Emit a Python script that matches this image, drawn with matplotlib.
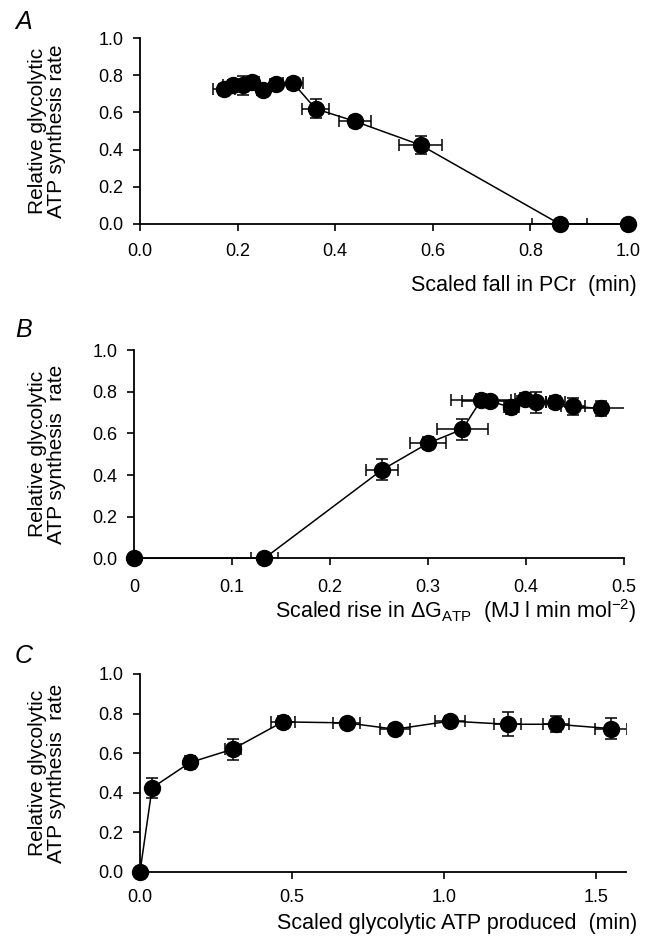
import matplotlib
matplotlib.use("Agg")
import matplotlib.pyplot as plt

plt.rcParams["font.family"] = ["Liberation Sans", "DejaVu Sans"]
plt.rcParams["mathtext.fontset"] = "custom"
plt.rcParams["mathtext.rm"] = "Liberation Sans"

# ---- panel A: scaled fall in PCr ----
a_x = [1.0, 0.86, 0.575, 0.44, 0.36, 0.314, 0.279, 0.252, 0.229, 0.211, 0.191, 0.172]
a_y = [0.0, 0.0, 0.425, 0.553, 0.62, 0.758, 0.753, 0.721, 0.762, 0.746, 0.746, 0.724]
a_xerr = [0.0, 0.056, 0.044, 0.033, 0.027, 0.02, 0.012, 0.012, 0.015, 0.015, 0.02, 0.022]
a_yerr = [0.0, 0.0, 0.05, 0.03, 0.05, 0.03, 0.02, 0.025, 0.03, 0.05, 0.03, 0.03]

# ---- panel B: scaled rise in dG_ATP ----
b_x = [0.0, 0.133, 0.253, 0.30, 0.335, 0.354, 0.363, 0.385, 0.399, 0.41, 0.43, 0.448, 0.477]
b_y = [0.0, 0.0, 0.425, 0.553, 0.62, 0.76, 0.755, 0.725, 0.765, 0.75, 0.75, 0.73, 0.72]
b_xerr = [0.0, 0.014, 0.016, 0.018, 0.026, 0.031, 0.028, 0.008, 0.01, 0.01, 0.01, 0.012, 0.03]
b_yerr = [0.0, 0.0, 0.05, 0.03, 0.05, 0.03, 0.02, 0.03, 0.03, 0.05, 0.03, 0.04, 0.035]

# ---- panel C: scaled glycolytic ATP produced ----
c_x = [0.0, 0.04, 0.165, 0.305, 0.47, 0.68, 0.84, 1.02, 1.21, 1.37, 1.55]
c_y = [0.0, 0.425, 0.553, 0.62, 0.758, 0.753, 0.721, 0.762, 0.746, 0.746, 0.724]
c_xerr = [0.0, 0.01, 0.015, 0.026, 0.04, 0.044, 0.05, 0.05, 0.043, 0.044, 0.053]
c_yerr = [0.0, 0.052, 0.035, 0.052, 0.03, 0.02, 0.025, 0.025, 0.06, 0.04, 0.054]

ylab_a = "Relative glycolytic\nATP synthesis rate"
ylab_bc = "Relative glycolytic\nATP synthesis  rate"

W, H = 648, 943
fig = plt.figure(figsize=(W / 100, H / 100), dpi=100)

panels = [
    # letter, rect, x, y, xerr, yerr, xlim, xticks, xticklabels, xlabel,
    # xlabel y (px), letter y (px), tick pad, ylabel
    ("A", [0.216, 0.7625, 0.753, 0.197], a_x, a_y, a_xerr, a_yerr, (0, 1.0),
     [0, 0.2, 0.4, 0.6, 0.8, 1.0], ["0.0", "0.2", "0.4", "0.6", "0.8", "1.0"],
     "Scaled fall in PCr  (min)", 286, 22, 9, ylab_a),
    ("B", [0.207, 0.408, 0.756, 0.2206], b_x, b_y, b_xerr, b_yerr, (0, 0.5),
     [0, 0.1, 0.2, 0.3, 0.4, 0.5], ["0", "0.1", "0.2", "0.3", "0.4", "0.5"],
     "Scaled rise in ΔG$_{\\mathrm{ATP}}$  (MJ l min mol$^{\\mathrm{{-}2}}$)", 611, 330, 10, ylab_bc),
    ("C", [0.216, 0.0753, 0.75, 0.21], c_x, c_y, c_xerr, c_yerr, (0, 1.6),
     [0, 0.5, 1.0, 1.5], ["0.0", "0.5", "1.0", "1.5"],
     "Scaled glycolytic ATP produced  (min)", 924, 656, 7, ylab_bc),
]

for letter, rect, x, y, xe, ye, xlim, xt, xtl, xlab, xlab_y, let_y, pad, ylab in panels:
    ax = fig.add_axes(rect)
    ax.errorbar(x, y, xerr=xe, yerr=ye, fmt="none", ecolor="black",
                elinewidth=1.1, capsize=4.5, capthick=1.1, zorder=2)
    ax.plot(x, y, "-o", color="black", markersize=11.5, linewidth=1.1,
            clip_on=False, zorder=3)
    ax.set_xlim(*xlim)
    ax.set_ylim(0, 1.0)
    ax.set_xticks(xt)
    ax.set_xticklabels(xtl)
    ax.set_yticks([0, 0.2, 0.4, 0.6, 0.8, 1.0])
    ax.set_yticklabels(["0.0", "0.2", "0.4", "0.6", "0.8", "1.0"])
    for s in ["top", "right"]:
        ax.spines[s].set_visible(False)
    for s in ["left", "bottom"]:
        ax.spines[s].set_linewidth(1.3)
    ax.tick_params(direction="out", length=5, width=1.2, labelsize=13, pad=7)
    ax.tick_params(axis="x", pad=pad)

    fig.text(637 / W, 1 - xlab_y / H, xlab, fontsize=15.5, ha="right", va="center")
    fig.text(47 / W, rect[1] + rect[3] / 2, ylab, fontsize=15, rotation=90,
             ha="center", va="center", linespacing=0.95, multialignment="center")
    fig.text(24 / W, 1 - let_y / H, letter, fontsize=18, fontstyle="italic",
             ha="center", va="center")

fig.savefig("out.png", dpi=100)
